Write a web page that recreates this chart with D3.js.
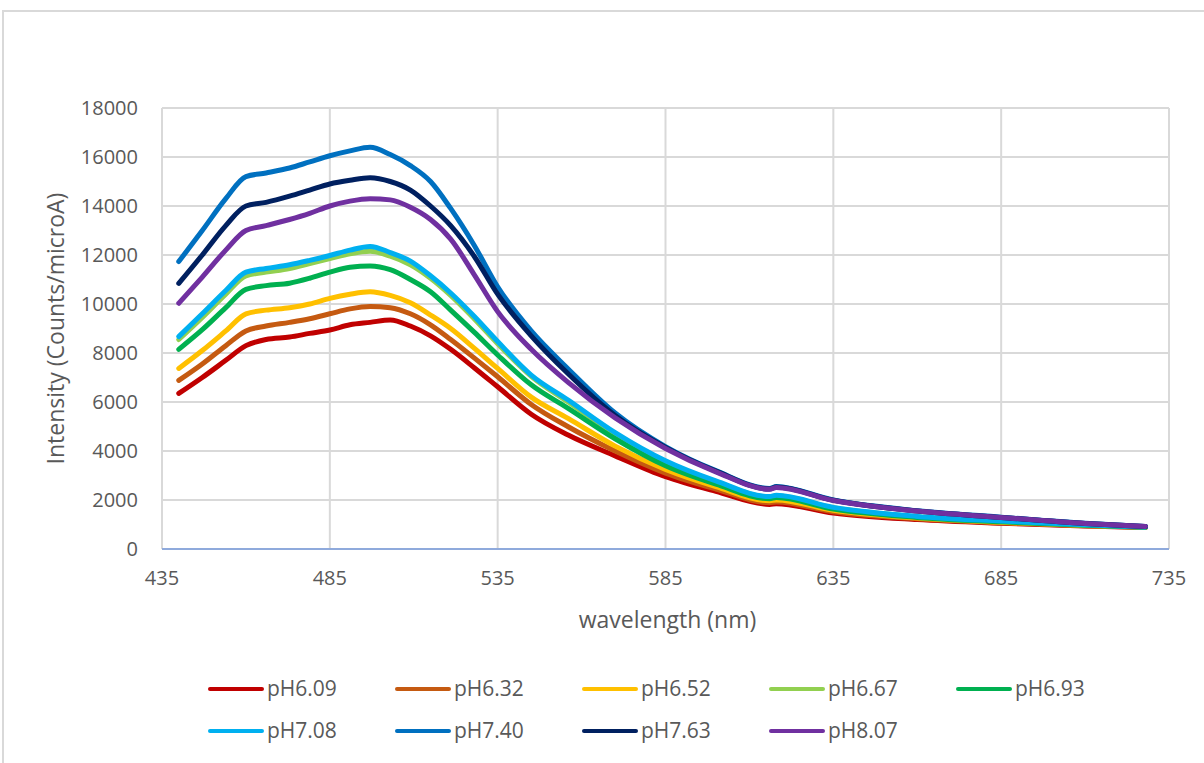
<!DOCTYPE html>
<html>
<head>
<meta charset="utf-8">
<script src="https://cdn.jsdelivr.net/npm/d3@7"></script>
<style>
  body { margin: 0; background: #fff; }
  svg text { font-family: "Open Sans", sans-serif; fill: #595959; }
</style>
</head>
<body>
<div id="chart"></div>
<script>
// wavelengths (nm)
const wavelengths = [440, 447, 454, 460, 466, 473, 479, 485, 491, 497, 503, 509, 515, 521, 528, 535, 545, 556, 570, 585, 600, 616, 618, 635, 660, 685, 710, 728];

const seriesNames = ['pH6.09', 'pH6.32', 'pH6.52', 'pH6.67', 'pH6.93', 'pH7.08', 'pH7.40', 'pH7.63', 'pH8.07'];
const seriesColors = ['#c00000', '#c55a11', '#ffc000', '#92d050', '#00b050', '#00b0f0', '#0070c0', '#002060', '#7030a0'];

const pH609 = [6350, 7000, 7700, 8300, 8550, 8650, 8800, 8940, 9150, 9250, 9350, 9100, 8700, 8150, 7400, 6620, 5500, 4650, 3800, 2950, 2350, 1820, 1850, 1470, 1200, 1050, 940, 880];
const pH632 = [6880, 7550, 8300, 8900, 9100, 9250, 9400, 9600, 9800, 9900, 9850, 9600, 9150, 8550, 7800, 7030, 5900, 4990, 4000, 3100, 2450, 1890, 1920, 1520, 1230, 1070, 950, 885];
const pH652 = [7370, 8100, 8900, 9600, 9750, 9850, 10000, 10230, 10400, 10500, 10350, 10050, 9550, 9000, 8200, 7370, 6200, 5330, 4200, 3250, 2550, 1970, 2000, 1580, 1260, 1090, 960, 890];
const pH667 = [8550, 9450, 10400, 11150, 11300, 11450, 11650, 11850, 12050, 12150, 11950, 11600, 11050, 10350, 9400, 8380, 7050, 6000, 4700, 3550, 2750, 2120, 2170, 1680, 1320, 1130, 980, 895];
const pH693 = [8150, 8950, 9850, 10600, 10750, 10850, 11050, 11300, 11500, 11550, 11400, 11000, 10500, 9750, 8850, 7920, 6700, 5740, 4500, 3400, 2650, 2050, 2100, 1630, 1290, 1110, 970, 890];
const pH708 = [8670, 9600, 10550, 11300, 11450, 11600, 11780, 11980, 12200, 12350, 12100, 11750, 11150, 10450, 9500, 8470, 7100, 6080, 4750, 3600, 2780, 2140, 2190, 1700, 1330, 1140, 985, 900];
const pH740 = [11730, 13000, 14300, 15200, 15350, 15550, 15800, 16050, 16250, 16400, 16100, 15650, 15000, 13900, 12400, 10700, 8900, 7350, 5550, 4180, 3200, 2470, 2550, 2000, 1560, 1300, 1050, 920];
const pH763 = [10840, 12000, 13200, 14000, 14150, 14400, 14650, 14900, 15050, 15150, 15000, 14650, 14000, 13200, 11950, 10400, 8700, 7150, 5450, 4150, 3180, 2450, 2530, 1990, 1550, 1290, 1045, 915];
const pH807 = [10030, 11100, 12200, 13000, 13200, 13450, 13700, 14000, 14200, 14300, 14250, 13950, 13450, 12650, 11200, 9690, 8150, 6800, 5350, 4100, 3150, 2440, 2510, 1980, 1550, 1290, 1045, 920];

const seriesValues = [pH609, pH632, pH652, pH667, pH693, pH708, pH740, pH763, pH807];

const xTicks = [435, 485, 535, 585, 635, 685, 735];
const yTicks = [0, 2000, 4000, 6000, 8000, 10000, 12000, 14000, 16000, 18000];

const width = 1204, height = 763;
const margin = {top: 108, right: 35, bottom: 214, left: 162};
const innerW = width - margin.left - margin.right;
const innerH = height - margin.top - margin.bottom;

const svg = d3.select('#chart').append('svg')
    .attr('width', width)
    .attr('height', height);

// outer chart frame
svg.append('rect')
    .attr('x', 3).attr('y', 11)
    .attr('width', width + 10).attr('height', height + 10)
    .attr('fill', '#fff')
    .attr('stroke', '#d9d9d9')
    .attr('stroke-width', 2);

const x = d3.scaleLinear().domain([435, 735]).range([0, innerW]);
const y = d3.scaleLinear().domain([0, 18000]).range([innerH, 0]);

const g = svg.append('g')
    .attr('transform', `translate(${margin.left},${margin.top})`);

// gridlines
g.append('g')
  .selectAll('line.h')
  .data(yTicks.filter(d => d > 0))
  .join('line')
    .attr('x1', 0).attr('x2', innerW)
    .attr('y1', d => y(d)).attr('y2', d => y(d))
    .attr('stroke', '#d9d9d9').attr('stroke-width', 2);

g.append('g')
  .selectAll('line.v')
  .data(xTicks)
  .join('line')
    .attr('x1', d => x(d)).attr('x2', d => x(d))
    .attr('y1', 0).attr('y2', innerH)
    .attr('stroke', '#d9d9d9').attr('stroke-width', 2);

// x axis line
g.append('line')
    .attr('x1', 0).attr('x2', innerW)
    .attr('y1', innerH).attr('y2', innerH)
    .attr('stroke', '#8faadc').attr('stroke-width', 2);

// tick labels
g.append('g')
  .selectAll('text')
  .data(yTicks)
  .join('text')
    .attr('x', -24)
    .attr('y', d => y(d))
    .attr('dy', '0.35em')
    .attr('text-anchor', 'end')
    .style('font-size', '20px')
    .text(d => d);

g.append('g')
  .selectAll('text')
  .data(xTicks)
  .join('text')
    .attr('x', d => x(d))
    .attr('y', innerH + 36)
    .attr('text-anchor', 'middle')
    .style('font-size', '20px')
    .text(d => d);

// axis titles
svg.append('text')
    .attr('transform', `translate(64,${margin.top + innerH / 2}) rotate(-90)`)
    .attr('text-anchor', 'middle')
    .style('font-size', '23px')
    .text('Intensity (Counts/microA)');

svg.append('text')
    .attr('x', margin.left + innerW / 2 + 2)
    .attr('y', 628)
    .attr('text-anchor', 'middle')
    .style('font-size', '23px')
    .text('wavelength (nm)');

// series lines
const line = d3.line()
    .x((d, i) => x(wavelengths[i]))
    .y(d => y(d))
    .curve(d3.curveMonotoneX);

g.append('g')
  .selectAll('path')
  .data(seriesValues)
  .join('path')
    .attr('d', d => line(d))
    .attr('fill', 'none')
    .attr('stroke', (d, i) => seriesColors[i])
    .attr('stroke-width', 5)
    .attr('stroke-linejoin', 'round')
    .attr('stroke-linecap', 'round');

// legend: two rows of five
const legend = svg.append('g');
const item = legend.selectAll('g')
  .data(seriesNames)
  .join('g')
    .attr('transform', (d, i) => `translate(${210 + (i % 5) * 187},${689 + Math.floor(i / 5) * 42})`);

item.append('line')
    .attr('x1', 0).attr('x2', 52)
    .attr('stroke', (d, i) => seriesColors[i])
    .attr('stroke-width', 4)
    .attr('stroke-linecap', 'round');

item.append('text')
    .attr('x', 57)
    .attr('dy', '0.35em')
    .style('font-size', '21px')
    .text(d => d);
</script>
</body>
</html>
